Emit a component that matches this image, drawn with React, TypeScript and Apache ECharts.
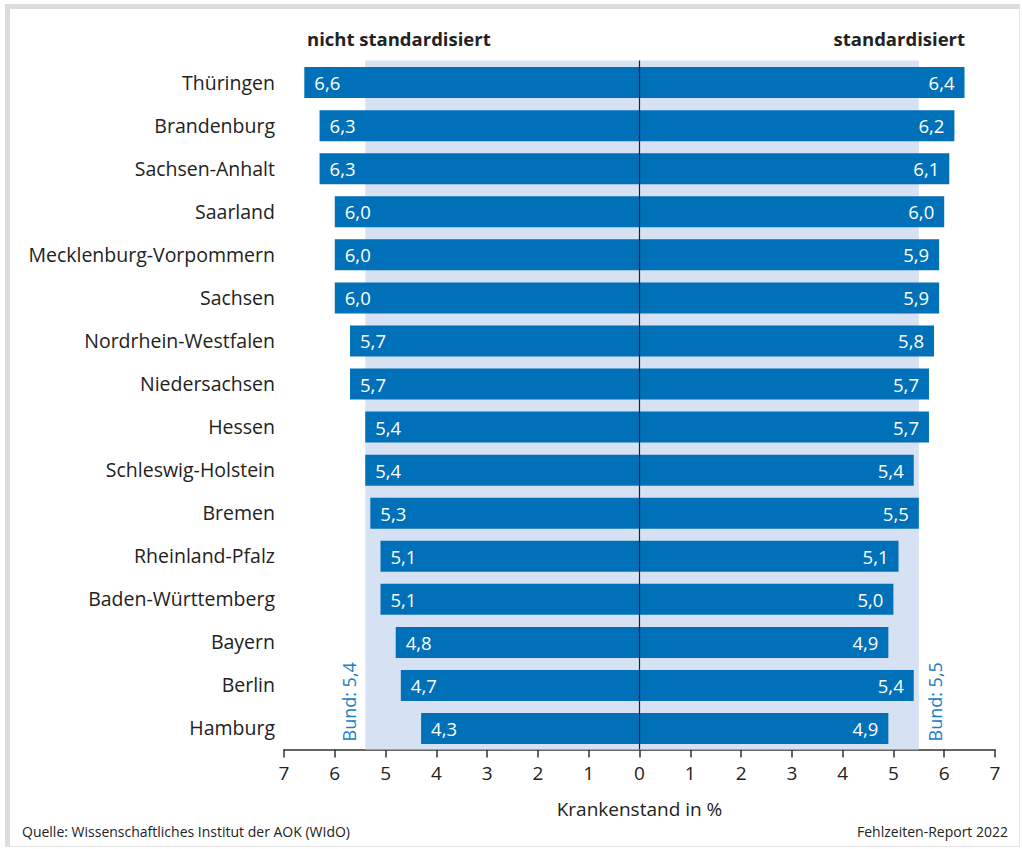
import React, { useEffect, useRef } from "react";
import * as echarts from "echarts";

const categories = [
  "Thüringen",
  "Brandenburg",
  "Sachsen-Anhalt",
  "Saarland",
  "Mecklenburg-Vorpommern",
  "Sachsen",
  "Nordrhein-Westfalen",
  "Niedersachsen",
  "Hessen",
  "Schleswig-Holstein",
  "Bremen",
  "Rheinland-Pfalz",
  "Baden-Württemberg",
  "Bayern",
  "Berlin",
  "Hamburg",
];
const nichtStandardisiert = [6.6, 6.3, 6.3, 6.0, 6.0, 6.0, 5.7, 5.7, 5.4, 5.4, 5.3, 5.1, 5.1, 4.8, 4.7, 4.3];
const standardisiert = [6.4, 6.2, 6.1, 6.0, 5.9, 5.9, 5.8, 5.7, 5.7, 5.4, 5.5, 5.1, 5.0, 4.9, 5.4, 4.9];
const bundNicht = 5.4;
const bundStd = 5.5;

const FONT = "'Open Sans', 'Noto Sans', sans-serif";
const BAR = "#0071b8";
const SHADE = "#d7e1f4";
const TEXT = "#222222";
const fmt = (v: number) => Math.abs(v).toFixed(1).replace(".", ",");

export default function App() {
  const ref = useRef<HTMLDivElement>(null);
  useEffect(() => {
    if (!ref.current) return;
    const chart = echarts.init(ref.current, undefined, { renderer: "svg" });
    const option: any = {
      animation: false,
      backgroundColor: "#ffffff",
      grid: { left: 284, right: 27, top: 60.5, bottom: 99.5, containLabel: false },
      xAxis: {
        type: "value",
        min: -7,
        max: 7,
        interval: 1,
        splitLine: { show: false },
        axisLine: { show: true, lineStyle: { color: "#333333", width: 1.5 } },
        axisTick: { show: true, length: 8, lineStyle: { color: "#333333", width: 1.5 } },
        axisLabel: {
          formatter: (v: number) => String(Math.abs(v)),
          color: TEXT,
          fontFamily: FONT,
          fontSize: 19,
          margin: 14,
        },
        name: "Krankenstand in %",
        nameLocation: "middle",
        nameGap: 50,
        nameTextStyle: { color: TEXT, fontFamily: FONT, fontSize: 19 },
      },
      yAxis: {
        type: "category",
        data: categories,
        inverse: true,
        axisLine: { show: false },
        axisTick: { show: false },
        axisLabel: { color: TEXT, fontFamily: FONT, fontSize: 19.5, margin: 9 },
      },
      series: [
        {
          name: "shade",
          type: "bar",
          data: [],
          silent: true,
          markArea: {
            silent: true,
            itemStyle: { color: SHADE },
            data: [[{ xAxis: -bundNicht }, { xAxis: bundStd }]],
          },
          markLine: {
            silent: true,
            symbol: "none",
            label: { show: false },
            lineStyle: { color: "#222222", width: 1.2, type: "solid" },
            data: [{ xAxis: 0 }],
          },
        },
        {
          name: "nicht standardisiert",
          type: "bar",
          stack: "a",
          barWidth: "72%",
          z: 3,
          itemStyle: { color: BAR },
          data: nichtStandardisiert.map((v) => -v),
          label: {
            show: true,
            position: "insideLeft",
            distance: 10,
            color: "#ffffff",
            fontFamily: FONT,
            fontSize: 18.5,
            formatter: (p: any) => fmt(p.value),
          },
        },
        {
          name: "standardisiert",
          type: "bar",
          stack: "a",
          barWidth: "72%",
          z: 3,
          itemStyle: { color: BAR },
          data: standardisiert,
          label: {
            show: true,
            position: "insideRight",
            distance: 10,
            color: "#ffffff",
            fontFamily: FONT,
            fontSize: 18.5,
            formatter: (p: any) => fmt(p.value),
          },
        },
      ],
    };
    chart.setOption(option);

    const xl = chart.convertToPixel({ xAxisIndex: 0 }, -bundNicht) as number;
    const xr = chart.convertToPixel({ xAxisIndex: 0 }, bundStd) as number;
    const yBottom = 849 - 99.5 - 8;

    chart.setOption({
      graphic: [
        { type: "rect", shape: { x: 5, y: 4, width: 1015, height: 5 }, style: { fill: "#dcdcdc" }, silent: true },
        { type: "rect", shape: { x: 5, y: 4, width: 5, height: 843 }, style: { fill: "#dcdcdc" }, silent: true },
        { type: "rect", shape: { x: 1019, y: 4, width: 1, height: 843 }, style: { fill: "#e4e4e4" }, silent: true },
        { type: "rect", shape: { x: 5, y: 846, width: 1015, height: 1 }, style: { fill: "#e4e4e4" }, silent: true },
        {
          type: "text",
          x: 307,
          y: 38,
          style: { text: "nicht standardisiert", fill: TEXT, font: `bold 18.5px ${FONT}`, textAlign: "left", textVerticalAlign: "middle" },
        },
        {
          type: "text",
          x: 965,
          y: 38,
          style: { text: "standardisiert", fill: TEXT, font: `bold 18.5px ${FONT}`, textAlign: "right", textVerticalAlign: "middle" },
        },
        {
          type: "text",
          x: xl - 16,
          y: yBottom,
          rotation: Math.PI / 2,
          style: { text: "Bund: 5,4", fill: "#1a80c4", font: `18px ${FONT}`, textAlign: "left", textVerticalAlign: "middle" },
        },
        {
          type: "text",
          x: xr + 16,
          y: yBottom,
          rotation: Math.PI / 2,
          style: { text: "Bund: 5,5", fill: "#1a80c4", font: `18px ${FONT}`, textAlign: "left", textVerticalAlign: "middle" },
        },
        {
          type: "text",
          x: 22,
          y: 831,
          style: { text: "Quelle: Wissenschaftliches Institut der AOK (WIdO)", fill: TEXT, font: `14px ${FONT}`, textAlign: "left", textVerticalAlign: "middle" },
        },
        {
          type: "text",
          x: 1008,
          y: 831,
          style: { text: "Fehlzeiten-Report 2022", fill: TEXT, font: `14px ${FONT}`, textAlign: "right", textVerticalAlign: "middle" },
        },
      ],
    });

    return () => chart.dispose();
  }, []);
  return <div ref={ref} style={{ position: "fixed", left: 0, top: 0, width: 1022, height: 849 }} />;
}
